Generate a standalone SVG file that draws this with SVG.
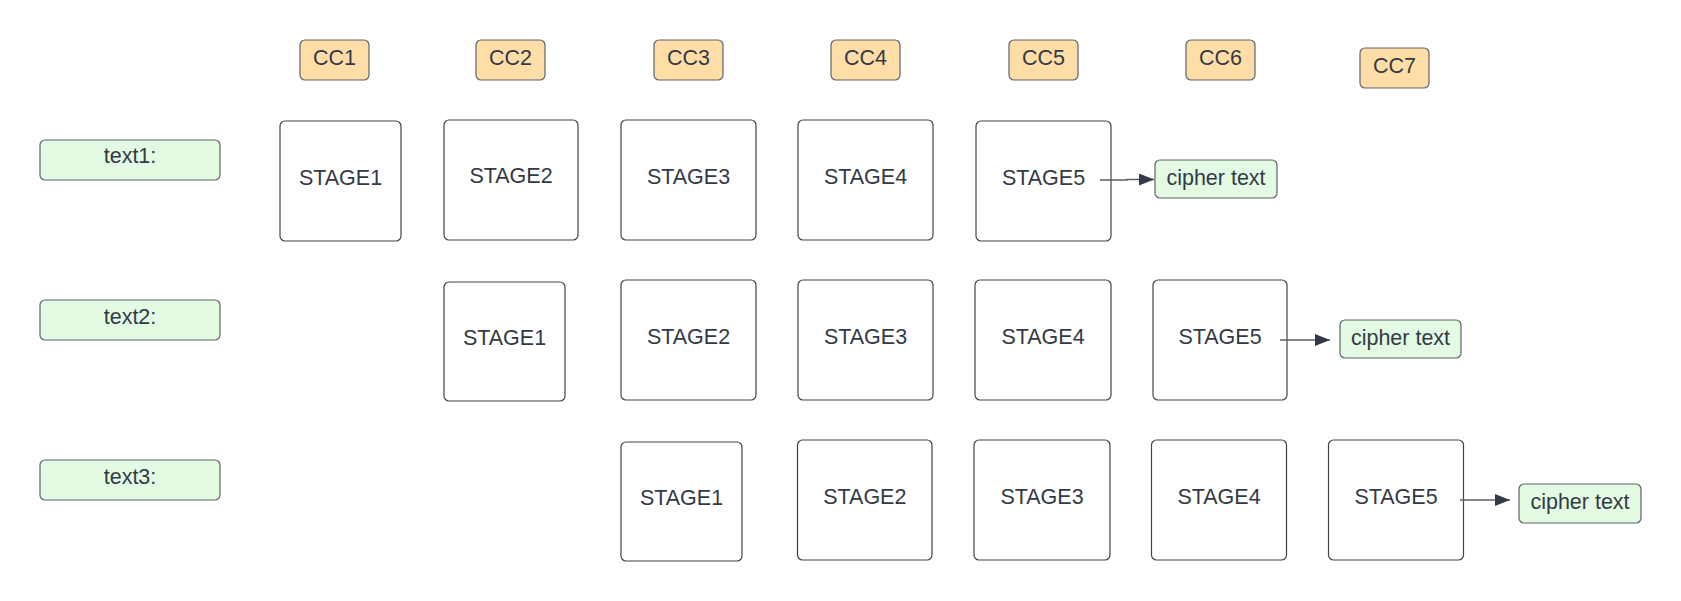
<svg xmlns="http://www.w3.org/2000/svg" width="1681" height="601" viewBox="0 0 1681 601">
<defs>
<style>
.t{font-family:"Liberation Sans",Arial,sans-serif;font-size:21.5px;fill:#343a45;text-anchor:middle}
.cc{fill:#ffdda6;stroke:#5f636a;stroke-width:1.2}
.gr{fill:#e3fae3;stroke:#5f636a;stroke-width:1.2}
.st{fill:#ffffff;stroke:#3f444c;stroke-width:1.2}
.ln{fill:none;stroke:#5a5f66;stroke-width:1.3}
</style>
<marker id="ah" markerUnits="userSpaceOnUse" markerWidth="16" markerHeight="13" refX="15" refY="6" orient="auto">
<path d="M0,0 L15,6 L0,12 Z" fill="#343a45"/>
</marker>
</defs>
<rect width="1681" height="601" fill="#ffffff"/>

<g id="cc1"><rect class="cc" x="300" y="40" width="69" height="40" rx="5"/><text class="t" x="334.5" y="64.5">CC1</text></g>
<g id="cc2"><rect class="cc" x="476" y="40" width="69" height="40" rx="5"/><text class="t" x="510.5" y="64.5">CC2</text></g>
<g id="cc3"><rect class="cc" x="654" y="40" width="69" height="40" rx="5"/><text class="t" x="688.5" y="64.5">CC3</text></g>
<g id="cc4"><rect class="cc" x="831" y="40" width="69" height="40" rx="5"/><text class="t" x="865.5" y="64.5">CC4</text></g>
<g id="cc5"><rect class="cc" x="1009" y="40" width="69" height="40" rx="5"/><text class="t" x="1043.5" y="64.5">CC5</text></g>
<g id="cc6"><rect class="cc" x="1186" y="40" width="69" height="40" rx="5"/><text class="t" x="1220.5" y="64.5">CC6</text></g>
<g id="cc7"><rect class="cc" x="1360" y="48" width="69" height="40" rx="5"/><text class="t" x="1394.5" y="72.5">CC7</text></g>

<g id="text1"><rect class="gr" x="40" y="140" width="180" height="40" rx="5"/><text class="t" x="130" y="162.5">text1:</text></g>
<g id="text2"><rect class="gr" x="40" y="300" width="180" height="40" rx="5"/><text class="t" x="130" y="323.5">text2:</text></g>
<g id="text3"><rect class="gr" x="40" y="460" width="180" height="40" rx="5"/><text class="t" x="130" y="483.5">text3:</text></g>

<g id="r1s1"><rect class="st" x="280" y="121" width="121" height="120" rx="5"/><text class="t" x="340.5" y="185">STAGE1</text></g>
<g id="r1s2"><rect class="st" x="444" y="120" width="134" height="120" rx="5"/><text class="t" x="511" y="183">STAGE2</text></g>
<g id="r1s3"><rect class="st" x="621" y="120" width="135" height="120" rx="5"/><text class="t" x="688.5" y="184">STAGE3</text></g>
<g id="r1s4"><rect class="st" x="798" y="120" width="135" height="120" rx="5"/><text class="t" x="865.5" y="184">STAGE4</text></g>
<g id="r1s5"><rect class="st" x="976" y="121" width="135" height="120" rx="5"/><text class="t" x="1043.5" y="185">STAGE5</text></g>
<g id="r1c"><rect class="gr" x="1155" y="160" width="122" height="38" rx="5"/><text class="t" x="1216" y="184.5">cipher text</text></g>

<g id="r2s1"><rect class="st" x="444" y="282" width="121" height="119" rx="5"/><text class="t" x="504.5" y="345">STAGE1</text></g>
<g id="r2s2"><rect class="st" x="621" y="280" width="135" height="120" rx="5"/><text class="t" x="688.5" y="344">STAGE2</text></g>
<g id="r2s3"><rect class="st" x="798" y="280" width="135" height="120" rx="5"/><text class="t" x="865.5" y="344">STAGE3</text></g>
<g id="r2s4"><rect class="st" x="975" y="280" width="136" height="120" rx="5"/><text class="t" x="1043" y="344">STAGE4</text></g>
<g id="r2s5"><rect class="st" x="1153" y="280" width="134" height="120" rx="5"/><text class="t" x="1220" y="344">STAGE5</text></g>
<g id="r2c"><rect class="gr" x="1340" y="320" width="121" height="38" rx="5"/><text class="t" x="1400.5" y="345">cipher text</text></g>

<g id="r3s1"><rect class="st" x="621" y="442" width="121" height="119" rx="5"/><text class="t" x="681.5" y="505">STAGE1</text></g>
<g id="r3s2"><rect class="st" x="797.5" y="440" width="134.5" height="120" rx="5"/><text class="t" x="864.8" y="504">STAGE2</text></g>
<g id="r3s3"><rect class="st" x="974" y="440" width="136" height="120" rx="5"/><text class="t" x="1042" y="504">STAGE3</text></g>
<g id="r3s4"><rect class="st" x="1151.5" y="440" width="135" height="120" rx="5"/><text class="t" x="1219" y="504">STAGE4</text></g>
<g id="r3s5"><rect class="st" x="1328.5" y="440" width="135" height="120" rx="5"/><text class="t" x="1396" y="503.5">STAGE5</text></g>
<g id="r3c"><rect class="gr" x="1519" y="484" width="122" height="39" rx="5"/><text class="t" x="1580" y="508.5">cipher text</text></g>

<g id="connectors">
<path class="ln" d="M1100,180 L1127,180 L1127,179.5 L1154,179.5" marker-end="url(#ah)"/>
<path class="ln" d="M1280,340 L1330,340" marker-end="url(#ah)"/>
<path class="ln" d="M1460,500 L1510,500" marker-end="url(#ah)"/>
</g>
</svg>
